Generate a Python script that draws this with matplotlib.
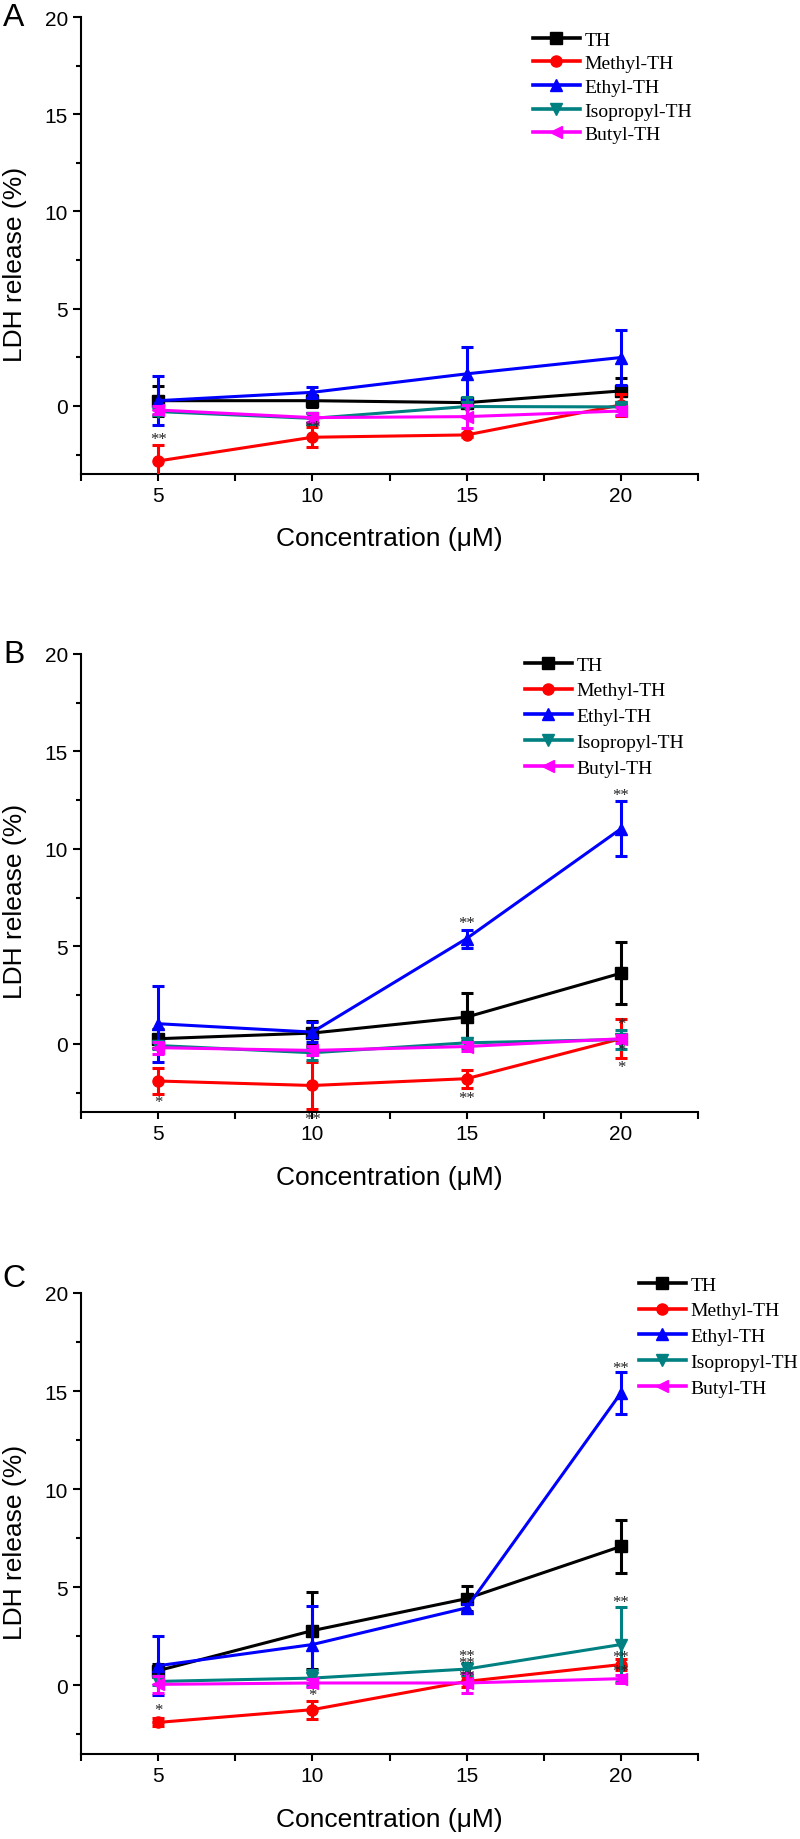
import matplotlib
matplotlib.use('Agg')
import matplotlib.pyplot as plt
from matplotlib.ticker import MultipleLocator
from matplotlib.lines import Line2D

# ---------------- data ----------------
concentrations = [5, 10, 15, 20]
series_names = ['TH', 'Methyl-TH', 'Ethyl-TH', 'Isopropyl-TH', 'Butyl-TH']
series_colors = ['#000000', '#FF0000', '#0000FF', '#008080', '#FF00FF']
series_markers = ['s', 'o', '^', 'v', '<']
panel_labels = ['A', 'B', 'C']
y_ticks = [0, 5, 10, 15, 20]
x_ticks = [5, 10, 15, 20]

# Panel A (means, errors) ordered as series_names
a_means = [[0.27, 0.27, 0.17, 0.77],
           [-2.83, -1.61, -1.49, 0.05],
           [0.27, 0.70, 1.65, 2.49],
           [-0.29, -0.64, -0.03, -0.05],
           [-0.21, -0.60, -0.55, -0.26]]
a_errs = [[0.78, 0.30, 0.20, 0.65],
          [0.83, 0.52, 0.12, 0.55],
          [1.27, 0.28, 1.37, 1.41],
          [0.20, 0.30, 0.50, 0.20],
          [0.20, 0.25, 0.60, 0.20]]
a_marks = [(5, -1.72, '**'), (10, -1.10, '**')]

# Panel B
b_means = [[0.26, 0.55, 1.37, 3.62],
           [-1.91, -2.14, -1.79, 0.26],
           [1.03, 0.60, 5.40, 11.03],
           [-0.09, -0.46, 0.05, 0.22],
           [-0.20, -0.34, -0.14, 0.26]]
b_errs = [[0.50, 0.60, 1.23, 1.60],
          [0.68, 1.20, 0.47, 1.00],
          [1.96, 0.50, 0.46, 1.41],
          [0.20, 0.35, 0.25, 0.47],
          [0.30, 0.25, 0.25, 0.20]]
b_marks = [(5, -2.99, '*'), (10, -3.85, '**'), (15, 6.20, '**'), (15, -2.78, '**'),
           (20, 12.77, '**'), (20, 1.00, '*'), (20, -0.30, '*'), (20, -1.20, '*')]

# Panel C
c_means = [[0.75, 2.79, 4.42, 7.08],
           [-1.89, -1.24, 0.20, 1.06],
           [1.00, 2.08, 3.95, 14.90],
           [0.20, 0.37, 0.83, 2.08],
           [0.05, 0.12, 0.12, 0.34]]
c_errs = [[0.35, 1.95, 0.64, 1.37],
          [0.20, 0.46, 0.30, 0.30],
          [1.50, 1.95, 0.20, 1.05],
          [0.20, 0.40, 0.30, 1.90],
          [0.45, 0.20, 0.50, 0.20]]
c_marks = [(5, -1.24, '*'), (10, -0.47, '*'), (15, 1.48, '**'), (15, 1.14, '**'),
           (15, 0.46, '**'), (20, 16.20, '**'), (20, 4.24, '**'), (20, 1.43, '**'),
           (20, 0.71, '**')]

# ---------------- layout ----------------
W, H = 800, 1840
fig = plt.figure(figsize=(W / 100, H / 100), dpi=100)

SANS = 'Liberation Sans'
SERIF = 'Liberation Serif'

ax_boxes = [(18, 475), (655, 1113), (1294, 1755)]
ax_left, ax_right = 81, 698
legend_pos = [(533, 32), (525, 657), (639, 1277)]
legend_spacing = [0.31, 0.42, 0.42]
ylabel_y = [264, 901, 1542]
xlabel_y = [539, 1178, 1820]
letter_y = [18, 655, 1279]

panels = [(a_means, a_errs, a_marks), (b_means, b_errs, b_marks), (c_means, c_errs, c_marks)]

LW = 2.2
MS = 8

for i, (means, errs, marks) in enumerate(panels):
    top, bot = ax_boxes[i]
    ax = fig.add_axes([ax_left / W, 1 - bot / H, (ax_right - ax_left) / W, (bot - top) / H])
    handles = []
    for j, name in enumerate(series_names):
        ax.errorbar(concentrations, means[j], yerr=errs[j], color=series_colors[j],
                    marker=series_markers[j], ms=MS, lw=LW, elinewidth=LW,
                    capsize=4.5, capthick=LW, zorder=2 + j)
        handles.append(Line2D([], [], color=series_colors[j], marker=series_markers[j],
                              ms=MS, lw=2.6, label=name))
    for (xx, yy, s) in marks:
        ax.text(xx, yy, s, ha='center', va='center', fontsize=12, family=SERIF,
                color='#222222', clip_on=False, zorder=10)

    ax.set_xlim(2.5, 22.5)
    ax.set_ylim(-3.5, 20)
    ax.set_xticks(x_ticks)
    ax.set_yticks(y_ticks)
    ax.xaxis.set_minor_locator(MultipleLocator(2.5))
    ax.yaxis.set_minor_locator(MultipleLocator(2.5))
    for sp in ['top', 'right']:
        ax.spines[sp].set_visible(False)
    for sp in ['left', 'bottom']:
        ax.spines[sp].set_linewidth(1.5)
    ax.tick_params(axis='y', which='major', direction='out', length=6, width=1.5, pad=3.5, labelsize=15)
    ax.tick_params(axis='y', which='minor', direction='out', length=3.5, width=1.5)
    ax.tick_params(axis='x', which='major', direction='out', length=5, width=1.5, pad=4, labelsize=15)
    ax.tick_params(axis='x', which='minor', direction='out', length=5, width=1.5)
    for lab in ax.get_xticklabels() + ax.get_yticklabels():
        lab.set_family(SANS)

    lx, ly = legend_pos[i]
    ax.legend(handles=handles, loc='upper left', bbox_to_anchor=(lx / W, 1 - ly / H),
              bbox_transform=fig.transFigure, frameon=False, borderpad=0, borderaxespad=0,
              handlelength=2.4, handletextpad=0.25, labelspacing=legend_spacing[i],
              prop={'family': SERIF, 'size': 14})

    fig.text(15 / W, 1 - ylabel_y[i] / H, 'LDH release (%)', rotation=90, ha='center', va='center',
             fontsize=19, family=SANS)
    fig.text((ax_left + ax_right) / 2 / W, 1 - xlabel_y[i] / H, 'Concentration (\u03bcM)', ha='center',
             va='center', fontsize=19, family=SANS)
    fig.text(14 / W, 1 - letter_y[i] / H, panel_labels[i], ha='center', va='center', fontsize=23, family=SANS)

fig.savefig('out.png', dpi=100)
